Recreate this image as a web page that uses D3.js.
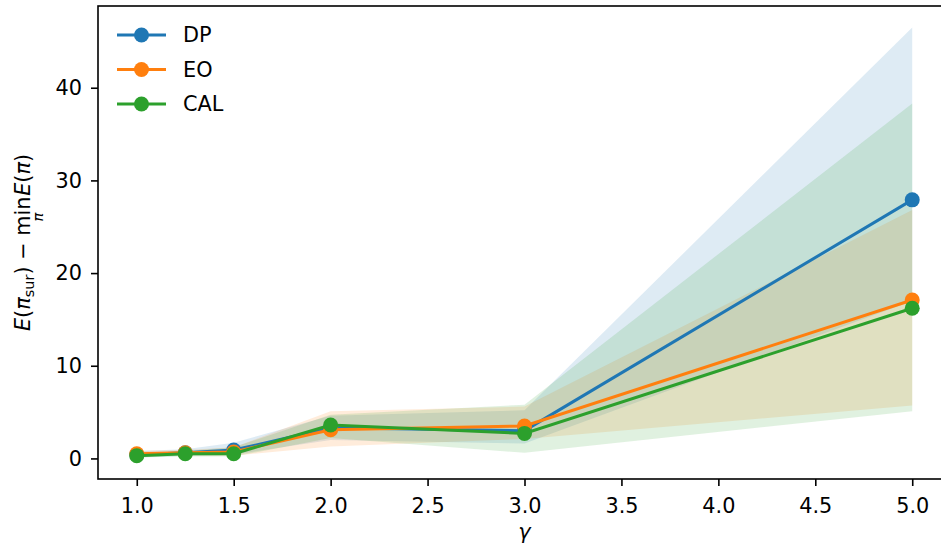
<!DOCTYPE html>
<html>
<head>
<meta charset="utf-8">
<script src="https://cdn.jsdelivr.net/npm/d3@7"></script>
<style>
  body { margin: 0; background: #fff; }
  svg { display: block; font-family: "DejaVu Sans", sans-serif; }
</style>
</head>
<body>
<script>
// gamma values on the x axis
const gammas = [1.0, 1.25, 1.5, 2.0, 3.0, 5.0];

// mean curves
const dpMean  = [0.4, 0.6, 0.9, 3.3, 3.0, 27.9];
const eoMean  = [0.5, 0.6, 0.7, 3.1, 3.5, 17.1];
const calMean = [0.3, 0.5, 0.5, 3.6, 2.7, 16.2];

// shaded bands (lower / upper)
const dpLow  = [0.1, 0.3, 0.4, 2.0, 1.6, 17.0];
const dpHigh = [0.8, 1.0, 1.7, 4.6, 5.2, 46.5];
const eoLow  = [0.2, 0.3, 0.3, 1.3, 2.1, 5.7];
const eoHigh = [0.8, 0.9, 1.2, 5.1, 5.6, 26.8];
const calLow  = [0.1, 0.2, 0.2, 2.2, 0.6, 5.1];
const calHigh = [0.6, 0.8, 1.2, 4.7, 5.8, 38.3];

const seriesNames = ['DP', 'EO', 'CAL'];
const xTicks = [1.0, 1.5, 2.0, 2.5, 3.0, 3.5, 4.0, 4.5, 5.0];
const yTicks = [0, 10, 20, 30, 40];

const colors = ['#1f77b4', '#ff7f0e', '#2ca02c'];
const series = [
  {name: seriesNames[0], mean: dpMean, low: dpLow, high: dpHigh},
  {name: seriesNames[1], mean: eoMean, low: eoLow, high: eoHigh},
  {name: seriesNames[2], mean: calMean, low: calLow, high: calHigh},
];

const W = 941, H = 546;
const mLeft = 98, mTop = 6, mRight = 951, mBottom = 479;

const svg = d3.select(document.body).append('svg')
  .attr('width', W).attr('height', H);

// matplotlib style 5% margins
const xMin = d3.min(gammas), xMax = d3.max(gammas);
const xPad = (xMax - xMin) * 0.05;
const x = d3.scaleLinear().domain([xMin - xPad, xMax + xPad]).range([mLeft, mRight]);

const yMin = d3.min(series, s => d3.min(s.low));
const yMax = d3.max(series, s => d3.max(s.high));
const yPad = (yMax - yMin) * 0.05;
const y = d3.scaleLinear().domain([yMin - yPad, yMax + yPad]).range([mBottom, mTop]);

// bands
const area = d3.area()
  .x((d, i) => x(gammas[i]))
  .y0(d => y(d[0]))
  .y1(d => y(d[1]));

series.forEach((s, k) => {
  svg.append('path')
    .attr('d', area(s.low.map((v, i) => [v, s.high[i]])))
    .attr('fill', colors[k])
    .attr('fill-opacity', 0.15);
});

// lines and markers
const line = d3.line().x((d, i) => x(gammas[i])).y(d => y(d));
series.forEach((s, k) => {
  svg.append('path')
    .attr('d', line(s.mean))
    .attr('fill', 'none')
    .attr('stroke', colors[k])
    .attr('stroke-width', 3);
  svg.selectAll(null).data(s.mean).enter().append('circle')
    .attr('cx', (d, i) => x(gammas[i]))
    .attr('cy', d => y(d))
    .attr('r', 7.5)
    .attr('fill', colors[k]);
});

// axes
const fs = 20.8;
const xAxis = svg.append('g')
  .attr('transform', `translate(0,${mBottom})`)
  .call(d3.axisBottom(x).tickValues(xTicks).tickFormat(d3.format('.1f')).tickSize(7).tickSizeOuter(0));
const yAxis = svg.append('g')
  .attr('transform', `translate(${mLeft},0)`)
  .call(d3.axisLeft(y).tickValues(yTicks).tickSize(7).tickSizeOuter(0));

[xAxis, yAxis].forEach(g => {
  g.select('.domain').remove();
  g.selectAll('line').attr('stroke', '#000').attr('stroke-width', 1.6);
  g.selectAll('text').attr('font-size', fs).attr('fill', '#000')
    .attr('font-family', '"DejaVu Sans", sans-serif');
});
xAxis.selectAll('text').attr('dy', '0.71em').attr('y', 19);
yAxis.selectAll('text').attr('x', -16);

// spines
svg.append('rect')
  .attr('x', mLeft).attr('y', mTop)
  .attr('width', mRight - mLeft).attr('height', mBottom - mTop)
  .attr('fill', 'none').attr('stroke', '#000').attr('stroke-width', 1.6);

// axis labels
svg.append('text')
  .attr('x', (mLeft + mRight) / 2).attr('y', 539)
  .attr('text-anchor', 'middle')
  .attr('font-size', fs)
  .attr('font-style', 'italic')
  .text('γ');

const yl = svg.append('text')
  .attr('transform', `translate(30,${(mTop + mBottom) / 2}) rotate(-90)`)
  .attr('text-anchor', 'middle')
  .attr('font-size', fs);
yl.append('tspan').attr('font-style', 'italic').text('E');
yl.append('tspan').text('(');
yl.append('tspan').attr('font-style', 'italic').text('π');
yl.append('tspan').attr('font-size', 14.5).attr('dy', 4).text('sur');
yl.append('tspan').attr('dy', -4).text(') − min');
yl.append('tspan').attr('font-size', 14.5).attr('font-style', 'italic').attr('dx', -25).attr('dy', 13).text('π');
yl.append('tspan').attr('dx', 17).attr('dy', -13).attr('font-style', 'italic').text('E');
yl.append('tspan').text('(');
yl.append('tspan').attr('font-style', 'italic').text('π');
yl.append('tspan').text(')');

// legend
const legend = svg.append('g');
series.forEach((s, k) => {
  const ly = 35 + k * 34.5;
  legend.append('line')
    .attr('x1', 117).attr('x2', 166).attr('y1', ly).attr('y2', ly)
    .attr('stroke', colors[k]).attr('stroke-width', 3);
  legend.append('circle')
    .attr('cx', 141.5).attr('cy', ly).attr('r', 7.5).attr('fill', colors[k]);
  legend.append('text')
    .attr('x', 183).attr('y', ly).attr('dy', '0.36em')
    .attr('font-size', fs)
    .text(s.name);
});
</script>
</body>
</html>
